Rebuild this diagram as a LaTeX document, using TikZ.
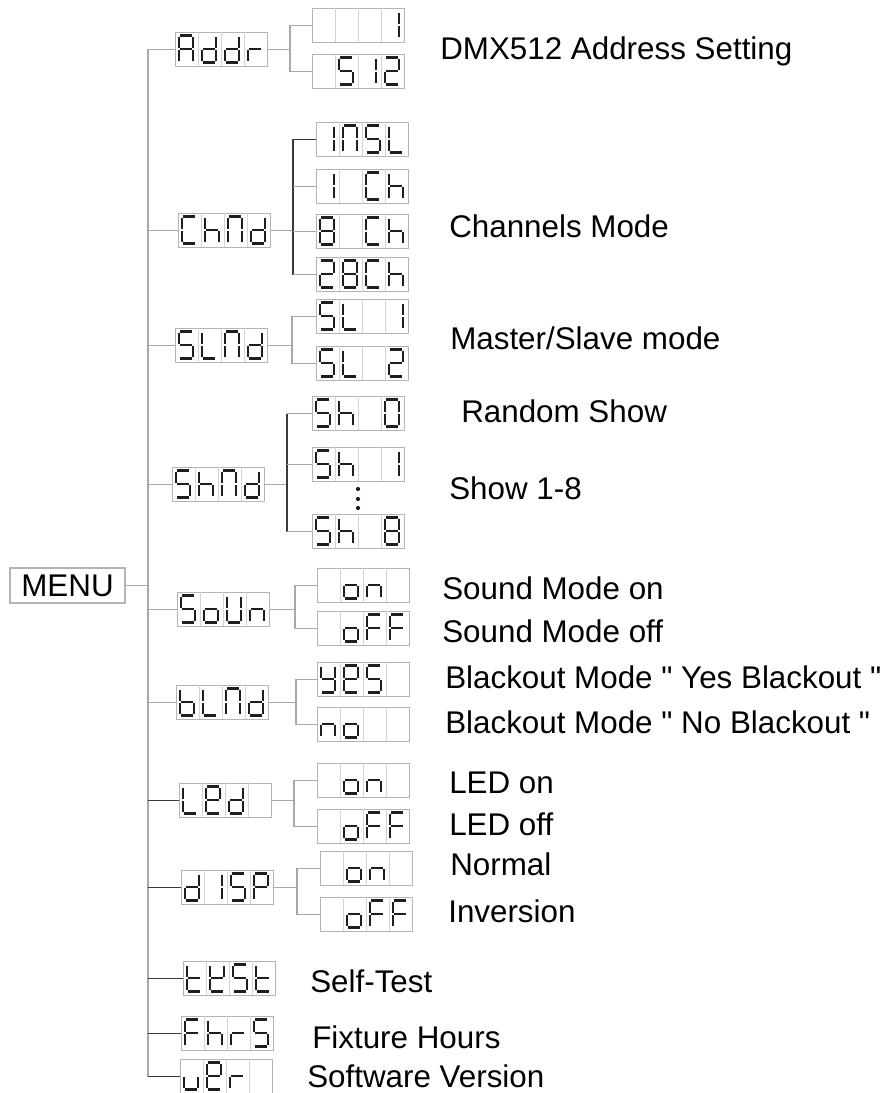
\documentclass[tikz,border=0pt]{standalone}
\usepackage{fontspec}
\setmainfont{Liberation Sans}

\definecolor{boxgray}{HTML}{B4B4B4}
\definecolor{cellgray}{HTML}{D4D4D4}
\definecolor{linegray}{HTML}{A8A8A8}
\definecolor{linedark}{HTML}{3A3A3A}
\definecolor{segblack}{HTML}{1E1E1E}

% Segmentos do display (celula 23 x 34)
\newcommand\defseg[2]{\expandafter\def\csname lcdseg-#1\endcsname{#2}}
\newcommand\defglyph[2]{\expandafter\def\csname lcdglyph-#1\endcsname{#2}}

\defseg{a}{\draw[seg] (5.4,3.5) -- (16.6,3.5);}
\defseg{b}{\draw[seg] (18,4.9) -- (18,15.6);}
\defseg{c}{\draw[seg] (18,18.4) -- (18,29.1);}
\defseg{d}{\draw[seg] (5.4,30.5) -- (16.6,30.5);}
\defseg{e}{\draw[seg] (4,18.4) -- (4,29.1);}
\defseg{f}{\draw[seg] (4,4.9) -- (4,15.6);}
\defseg{g}{\draw[seg] (5.4,17) -- (16.6,17);}
\defseg{z}{}

% Caracteres
\defglyph{A}{a,b,c,e,f,g}
\defglyph{b}{c,d,e,f,g}
\defglyph{C}{a,d,e,f}
\defglyph{d}{b,c,d,e,g}
\defglyph{e}{a,b,d,e,f,g}
\defglyph{E}{b,d,e,f,g}
\defglyph{F}{a,e,f,g}
\defglyph{h}{c,e,f,g}
\defglyph{L}{d,e,f}
\defglyph{N}{a,b,c,e,f}
\defglyph{n}{c,e,g}
\defglyph{o}{c,d,e,g}
\defglyph{P}{a,b,e,f,g}
\defglyph{r}{e,g}
\defglyph{S}{a,c,d,f,g}
\defglyph{t}{d,e,f,g}
\defglyph{U}{b,c,d,e,f}
\defglyph{u}{c,d,e}
\defglyph{Y}{b,c,d,f,g}
\defglyph{0}{a,b,c,d,e,f}
\defglyph{1}{b,c}
\defglyph{2}{a,b,d,e,g}
\defglyph{8}{a,b,c,d,e,f,g}
\defglyph{-}{z}

% Display de 4 digitos sobre um no
\newcommand\lcd[2]{%
  \begin{scope}[shift={(#1.north west)}]
    \foreach \k in {1,2,3}
      \draw[cellline] (\k*23,0) -- (\k*23,34);
    \foreach \c [count=\i from 0] in {#2}{
      \begin{scope}[shift={(\i*23,0)}]
        \edef\segs{\csname lcdglyph-\c\endcsname}
        \foreach \s in \segs {\csname lcdseg-\s\endcsname}
      \end{scope}
    }
  \end{scope}%
}

\begin{document}
\begin{tikzpicture}[x=0.025cm, y=-0.025cm]

    % Estilos
    \tikzset{
        lcd/.style={draw=boxgray, line width=0.7pt, minimum width=2.3cm,
            minimum height=0.85cm, inner sep=0pt, anchor=north west},
        cellline/.style={cellgray, line width=0.6pt},
        seg/.style={segblack, line width=1.85pt},
        conn/.style={linegray, line width=0.8pt},
        darkconn/.style={linedark, line width=0.9pt},
        lbl/.style={anchor=base west, inner sep=0pt, text=black,
            font=\fontsize{22.3}{26}\selectfont},
        menubox/.style={draw=boxgray, line width=0.8pt, minimum width=2.875cm,
            minimum height=0.875cm, inner sep=0pt,
            font=\fontsize{22.3}{26}\selectfont}
    }

    \useasboundingbox (0,0) rectangle (893,1093);

    % --------------------
    % Menu e tronco
    % --------------------
    \node[menubox] (menu) at (67.5,585.5) {MENU};
    \coordinate (trunk) at (148,0);

    % --------------------
    % Primeiro nivel
    % --------------------
    \node[lcd] (addr) at (175,32) {};
    \node[lcd] (chnd) at (178,213) {};
    \node[lcd] (slnd) at (175,328) {};
    \node[lcd] (shnd) at (172,467) {};
    \node[lcd] (soun) at (177,592) {};
    \node[lcd] (blnd) at (176,685) {};
    \node[lcd] (led)  at (179,783) {};
    \node[lcd] (disp) at (181,870) {};
    \node[lcd] (test) at (183,961) {};
    \node[lcd] (fhrs) at (181,1016) {};
    \node[lcd] (uer)  at (180,1059) {};

    \lcd{addr}{A,d,d,r}
    \lcd{chnd}{C,h,N,d}
    \lcd{slnd}{S,L,N,d}
    \lcd{shnd}{S,h,N,d}
    \lcd{soun}{S,o,U,n}
    \lcd{blnd}{b,L,N,d}
    \lcd{led}{L,e,d,-}
    \lcd{disp}{d,1,S,P}
    \lcd{test}{t,E,S,t}
    \lcd{fhrs}{F,h,r,S}
    \lcd{uer}{u,e,r,-}

    \draw[conn] (menu.east) -- (menu.east -| trunk);
    \draw[conn] (addr.west) -| (trunk |- uer.west);
    \draw[darkconn] (trunk |- uer.west) -- (uer.west);
    \foreach \n in {chnd,slnd,shnd,soun,blnd}
        \draw[conn] (trunk |- \n.west) -- (\n.west);
    \foreach \n in {led,disp,test,fhrs}
        \draw[darkconn] (trunk |- \n.west) -- (\n.west);

    % --------------------
    % Endereco DMX
    % --------------------
    \node[lcd] (adrlow)  at (312,8) {};
    \node[lcd] (adrhigh) at (312,54) {};
    \lcd{adrlow}{-,-,-,1}
    \lcd{adrhigh}{-,S,1,2}
    \coordinate (fAddr) at (290,0);
    \draw[conn] (addr.east) -- (addr.east -| fAddr);
    \draw[conn] (adrlow.west) -| (fAddr |- adrhigh.west) -- (adrhigh.west);

    % --------------------
    % Canais
    % --------------------
    \node[lcd] (insl)  at (316,122) {};
    \node[lcd] (chone) at (316,169) {};
    \node[lcd] (cheight) at (316,214) {};
    \node[lcd] (chtwoeight) at (316,257) {};
    \lcd{insl}{1,N,S,L}
    \lcd{chone}{1,-,C,h}
    \lcd{cheight}{8,-,C,h}
    \lcd{chtwoeight}{2,8,C,h}
    \coordinate (fCh) at (293,0);
    \draw[conn] (chnd.east) -- (chnd.east -| fCh);
    \draw[darkconn] (insl.west) -| (fCh |- chtwoeight.west);
    \foreach \n in {chone,cheight,chtwoeight}
        \draw[conn] (fCh |- \n.west) -- (\n.west);

    % --------------------
    % Master / Slave
    % --------------------
    \node[lcd] (slone) at (316,299) {};
    \node[lcd] (sltwo) at (316,346) {};
    \lcd{slone}{S,L,-,1}
    \lcd{sltwo}{S,L,-,2}
    \coordinate (fSl) at (292,0);
    \draw[conn] (slnd.east) -- (slnd.east -| fSl);
    \draw[conn] (slone.west) -| (fSl |- sltwo.west) -- (sltwo.west);

    % --------------------
    % Shows
    % --------------------
    \node[lcd] (shzero)  at (312,396) {};
    \node[lcd] (shone)   at (312,447) {};
    \node[lcd] (sheight) at (312,514) {};
    \lcd{shzero}{S,h,-,0}
    \lcd{shone}{S,h,-,1}
    \lcd{sheight}{S,h,-,8}
    \coordinate (fSh) at (287,0);
    \draw[conn] (shnd.east) -- (shnd.east -| fSh);
    \draw[darkconn] (fSh |- shzero.west) -- (fSh |- sheight.west);
    \foreach \n in {shzero,shone,sheight}
        \draw[conn] (fSh |- \n.west) -- (\n.west);
    \foreach \y in {489,499,508}
        \fill[segblack] (358,\y) circle (1.5pt);

    % --------------------
    % Som
    % --------------------
    \node[lcd] (sndon)  at (317,568) {};
    \node[lcd] (sndoff) at (317,611) {};
    \lcd{sndon}{-,o,n,-}
    \lcd{sndoff}{-,o,F,F}
    \coordinate (fSnd) at (295,0);
    \draw[conn] (soun.east) -- (soun.east -| fSnd);
    \draw[conn] (sndon.west) -| (fSnd |- sndoff.west) -- (sndoff.west);

    % --------------------
    % Blackout
    % --------------------
    \node[lcd] (blkyes) at (317,662) {};
    \node[lcd] (blkno)  at (317,707) {};
    \lcd{blkyes}{Y,e,S,-}
    \lcd{blkno}{n,o,-,-}
    \coordinate (fBlk) at (296,0);
    \draw[conn] (blnd.east) -- (blnd.east -| fBlk);
    \draw[conn] (blkyes.west) -| (fBlk |- blkno.west) -- (blkno.west);

    % --------------------
    % LED
    % --------------------
    \node[lcd] (ledon)  at (317,763) {};
    \node[lcd] (ledoff) at (317,809) {};
    \lcd{ledon}{-,o,n,-}
    \lcd{ledoff}{-,o,F,F}
    \coordinate (fLed) at (294,0);
    \draw[conn] (led.east) -- (led.east -| fLed);
    \draw[conn] (ledon.west) -| (fLed |- ledoff.west) -- (ledoff.west);

    % --------------------
    % Display
    % --------------------
    \node[lcd] (dispon)  at (320,851) {};
    \node[lcd] (dispoff) at (320,897) {};
    \lcd{dispon}{-,o,n,-}
    \lcd{dispoff}{-,o,F,F}
    \coordinate (fDisp) at (297,0);
    \draw[conn] (disp.east) -- (disp.east -| fDisp);
    \draw[conn] (dispon.west) -| (fDisp |- dispoff.west) -- (dispoff.west);

    % --------------------
    % Textos
    % --------------------
    \node[lbl] (tAddr)  at (440,59)   {DMX512 Address Setting};
    \node[lbl] (tCh)    at (449,237)  {Channels Mode};
    \node[lbl] (tSl)    at (450,349)  {Master/Slave mode};
    \node[lbl] (tRnd)   at (461,422)  {Random Show};
    \node[lbl] (tSh)    at (449,499)  {Show 1-8};
    \node[lbl] (tSndOn) at (442,599)  {Sound Mode on};
    \node[lbl] (tSndOff) at (442,642) {Sound Mode off};
    \node[lbl] (tBlkYes) at (445,688) {Blackout Mode \textquotedbl{} Yes Blackout \textquotedbl};
    \node[lbl] (tBlkNo) at (445,733)  {Blackout Mode \textquotedbl{} No Blackout \textquotedbl};
    \node[lbl] (tLedOn) at (449,793)  {LED on};
    \node[lbl] (tLedOff) at (449,835) {LED off};
    \node[lbl] (tNorm)  at (450,875)  {Normal};
    \node[lbl] (tInv)   at (448,922)  {Inversion};
    \node[lbl] (tTest)  at (310,992)  {Self-Test};
    \node[lbl] (tHours) at (312,1048) {Fixture Hours};
    \node[lbl] (tVer)   at (307,1087) {Software Version};

\end{tikzpicture}
\end{document}
